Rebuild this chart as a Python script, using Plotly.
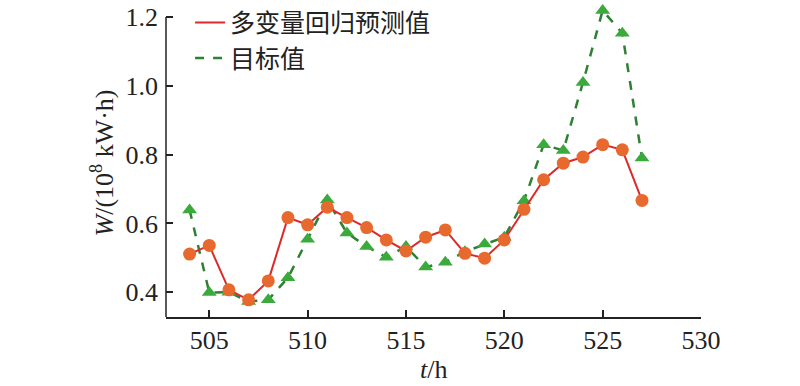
import plotly.graph_objects as go

t = list(range(504, 528))
predicted = [0.511, 0.536, 0.407, 0.378, 0.433, 0.617, 0.596, 0.647, 0.617, 0.588,
             0.552, 0.520, 0.560, 0.581, 0.513, 0.499, 0.552, 0.641, 0.727, 0.775,
             0.793, 0.829, 0.814, 0.667]
target = [0.639, 0.399, 0.400, 0.373, 0.378, 0.442, 0.554, 0.668, 0.572, 0.533,
          0.502, 0.533, 0.473, 0.487, 0.518, 0.540, 0.560, 0.666, 0.829, 0.812,
          1.010, 1.219, 1.153, 0.790]
y_ticks = [0.4, 0.6, 0.8, 1.0, 1.2]
x_ticks = [505, 510, 515, 520, 525, 530]
name_pred = "多变量回归预测值"
name_target = "目标值"

serif = "Liberation Serif, Times New Roman, DejaVu Serif, serif"
cjk = "Noto Sans CJK SC, sans-serif"
axis_color = "#222"

fig = go.Figure()
# target series
fig.add_trace(go.Scatter(x=t, y=target, mode="lines", name=name_target,
                         line=dict(color="#2E8032", width=2.5, dash="dash"),
                         legendrank=2, cliponaxis=False))
fig.add_trace(go.Scatter(x=t, y=target, mode="markers", showlegend=False, cliponaxis=False,
                         marker=dict(symbol="triangle-up", size=13, color="#3AAA3C")))
# predicted series
fig.add_trace(go.Scatter(x=t, y=predicted, mode="lines", name=name_pred,
                         line=dict(color="#DC2A2A", width=2),
                         legendrank=1, cliponaxis=False))
fig.add_trace(go.Scatter(x=t, y=predicted, mode="markers", showlegend=False, cliponaxis=False,
                         marker=dict(symbol="circle", size=13, color="#E8692E")))

# left axis line ending at the top tick
fig.add_shape(type="line", xref="paper", yref="y", x0=0, x1=0,
              y0=0.328, y1=max(y_ticks), line=dict(color=axis_color, width=1.5))

# x-axis title
fig.add_annotation(text="<i>t</i>/h", xref="paper", yref="paper", x=0.5, y=0,
                   xanchor="center", yanchor="middle", yshift=-52, showarrow=False,
                   font=dict(family=serif, size=26, color=axis_color))

fig.update_layout(
    width=800, height=386,
    margin=dict(l=166, r=99, t=9, b=69, autoexpand=False),
    plot_bgcolor="white", paper_bgcolor="white",
    font=dict(family=serif, size=26, color=axis_color),
    legend=dict(x=0.045, y=1.03, xanchor="left", yanchor="top",
                bgcolor="rgba(0,0,0,0)", font=dict(family=cjk, size=25, color=axis_color),
                tracegroupgap=0, itemwidth=30),
    xaxis=dict(range=[502.8, 530], tickvals=x_ticks,
               showline=True, linecolor=axis_color, linewidth=1.5, mirror=False,
               ticks="inside", ticklen=7, tickcolor=axis_color, tickwidth=1.5,
               showgrid=False, zeroline=False, automargin=False,
               tickfont=dict(family=serif, size=26), ticklabelstandoff=-1,
               ticklabeloverflow="allow"),
    yaxis=dict(range=[0.328, 1.2233], tickvals=y_ticks,
               ticktext=["0.4", "0.6", "0.8", "1.0", "1.2"],
               showline=False,
               ticks="inside", ticklen=7, tickcolor=axis_color, tickwidth=1.5,
               showgrid=False, zeroline=False, automargin=False,
               tickfont=dict(family=serif, size=26), ticklabelstandoff=7,
               ticklabeloverflow="allow",
               title=dict(text="<i>W</i>/(10<sup>8</sup> kW·h)", font=dict(family=serif, size=26), standoff=4)),
)

fig.write_html("out.html", config={"displayModeBar": False},
               post_script="document.body.style.margin='0';")
